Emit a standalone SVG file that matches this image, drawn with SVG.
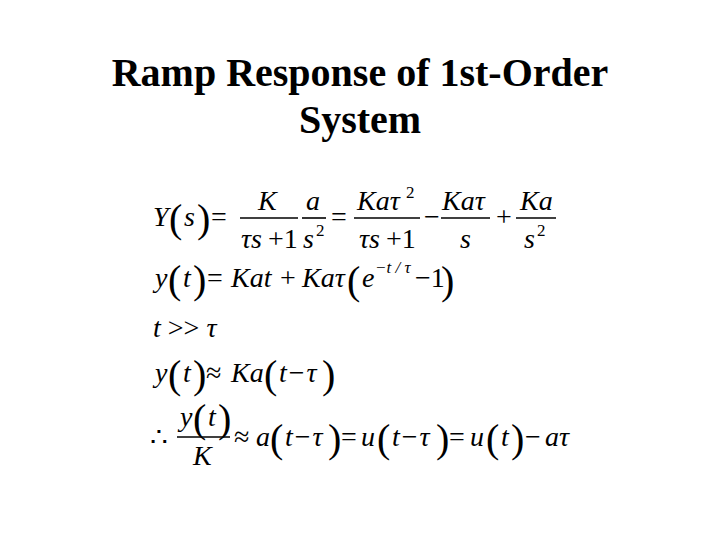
<svg xmlns="http://www.w3.org/2000/svg" width="720" height="540" viewBox="0 0 720 540">
<style>
.t{font-family:'Liberation Serif','Times New Roman','DejaVu Serif',serif;font-weight:bold;font-size:40px;text-anchor:middle}
.m{font-family:'Liberation Serif','Times New Roman','DejaVu Serif',serif;font-size:28px;font-style:italic}
.r{font-style:normal}
.p{font-family:'Liberation Serif','Times New Roman','DejaVu Serif',serif;font-size:40px}
.s{font-size:17px}
.b{stroke:#000;stroke-width:1.6}
</style>
<rect width="720" height="540" fill="#fff"/>
<g id="title">
<text class="t" x="360" y="86">Ramp Response of 1st-Order</text>
<text class="t" x="360" y="133">System</text>
</g>
<g id="eq1">
<text class="m" x="153" y="226">Y</text>
<text class="p" x="169" y="232">(</text><text class="m" x="184" y="226">s</text><text class="p" x="197" y="232">)</text>
<text class="m r" x="211" y="226">=</text>
<text class="m" x="258" y="210">K</text>
<line class="b" x1="240" y1="218" x2="298" y2="218"/>
<text class="m" x="241" y="248">τs<tspan class="r" dx="6">+1</tspan></text>
<text class="m" x="306" y="210">a</text>
<line class="b" x1="302" y1="218" x2="326" y2="218"/>
<text class="m" x="303" y="248">s</text><text class="m r s" x="316" y="236">2</text>
<text class="m r" x="331" y="226">=</text>
<text class="m" x="357" y="210">Kaτ</text><text class="m r s" x="406" y="198">2</text>
<line class="b" x1="354" y1="218" x2="420" y2="218"/>
<text class="m" x="359" y="248">τs<tspan class="r" dx="6">+1</tspan></text>
<text class="m r" x="424" y="226">−</text>
<text class="m" x="442" y="210">Kaτ</text>
<line class="b" x1="441" y1="218" x2="490" y2="218"/>
<text class="m" x="460" y="248">s</text>
<text class="m r" x="496" y="226">+</text>
<text class="m" x="520" y="210">Ka</text>
<line class="b" x1="516" y1="218" x2="556" y2="218"/>
<text class="m" x="524" y="248">s</text><text class="m r s" x="537" y="236">2</text>
</g>
<g id="eq2">
<text class="m" x="155" y="287">y</text>
<text class="p" x="168" y="293">(</text><text class="m" x="183" y="287">t</text><text class="p" x="193" y="293">)</text>
<text class="m r" x="207" y="287">=</text>
<text class="m" x="231" y="287">Kat</text>
<text class="m r" x="280" y="287">+</text>
<text class="m" x="302" y="287">Kaτ</text>
<text class="p" x="347" y="294">(</text>
<text class="m" x="362" y="287">e</text><text class="m s" x="375" y="273">−t / τ</text>
<text class="m r" x="415" y="287">−1</text>
<text class="p" x="441" y="294">)</text>
</g>
<g id="eq3">
<text class="m" x="153" y="337">t <tspan class="r">&gt;&gt;</tspan> τ</text>
</g>
<g id="eq4">
<text class="m" x="155" y="382">y</text>
<text class="p" x="168" y="388">(</text><text class="m" x="183" y="382">t</text><text class="p" x="193" y="388">)</text>
<text class="m r" x="206" y="382">≈</text>
<text class="m" x="231" y="382">Ka</text>
<text class="p" x="264" y="388">(</text><text class="m" x="279" y="382">t<tspan class="r" dx="2">−</tspan><tspan dx="2">τ</tspan></text><text class="p" x="322" y="388">)</text>
</g>
<g id="eq5">
<text class="m r" x="150" y="446">∴</text>
<text class="m" x="180" y="426">y</text>
<text class="p" x="193" y="432">(</text><text class="m" x="208" y="426">t</text><text class="p" x="218" y="432">)</text>
<line class="b" x1="177" y1="437" x2="230" y2="437"/>
<text class="m" x="193" y="465">K</text>
<text class="m r" x="234" y="446">≈</text>
<text class="m" x="256" y="446">a</text>
<text class="p" x="270" y="452">(</text><text class="m" x="285" y="446">t<tspan class="r" dx="2">−</tspan><tspan dx="2">τ</tspan></text><text class="p" x="328" y="452">)</text>
<text class="m r" x="341" y="446">=</text>
<text class="m" x="361" y="446">u</text>
<text class="p" x="377" y="452">(</text><text class="m" x="392" y="446">t<tspan class="r" dx="2">−</tspan><tspan dx="2">τ</tspan></text><text class="p" x="436" y="452">)</text>
<text class="m r" x="449" y="446">=</text>
<text class="m" x="470" y="446">u</text>
<text class="p" x="486" y="452">(</text><text class="m" x="501" y="446">t</text><text class="p" x="511" y="452">)</text>
<text class="m r" x="525" y="446">−</text>
<text class="m" x="545" y="446">aτ</text>
</g>
</svg>
